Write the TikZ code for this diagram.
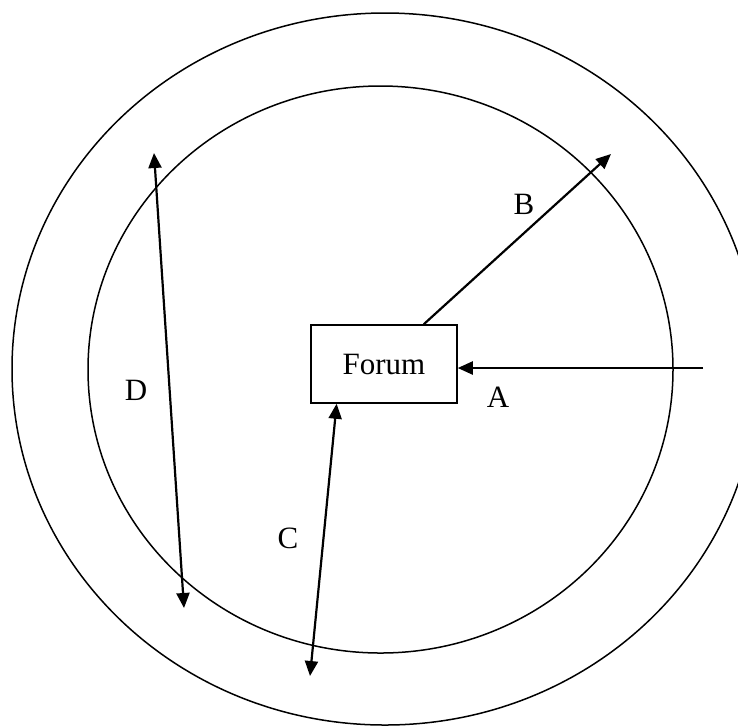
\documentclass[tikz,border=0pt]{standalone}
\usepackage{fontspec}
\setmainfont{Liberation Serif}
\usetikzlibrary{arrows.meta,positioning}

\begin{document}
\begin{tikzpicture}[x=0.5pt,y=-0.5pt,
  ring/.style={line width=0.75pt},
  box/.style={rectangle,draw,line width=0.75pt,minimum width=73pt,minimum height=39pt,inner sep=0pt,font=\fontsize{15.5}{18}\selectfont},
  lbl/.style={inner sep=0pt,font=\fontsize{15.5}{18}\selectfont},
  link/.style={line width=1.1pt,-{Triangle[length=7.5pt,width=6.5pt]}},
  twoway/.style={link,{Triangle[length=7.5pt,width=6.5pt]}-{Triangle[length=7.5pt,width=6.5pt]}}
]
\clip (0,0) rectangle (738,725);
% rings
\draw[ring] (385,369) ellipse [x radius=186.5pt,y radius=178pt];
\draw[ring] (380.5,369.5) ellipse [x radius=146.25pt,y radius=141.75pt];
% centre box
\node[box] (forum) at (384,364) {Forum};
\coordinate (aFrom) at (703,368);
\coordinate (bTo) at (611,154);
\coordinate (cTo) at (310,676);
\coordinate (dTop) at (154,153);
\coordinate (dBot) at (184,608);
\draw[link] (aFrom) -- (aFrom -| forum.east);
\draw[link] (forum.45.7) -- (bTo);
\draw[twoway] (forum.220) -- (cTo);
\draw[twoway] (dTop) -- (dBot);
% labels
\node[lbl] (la) at (498,397) {A};
\node[lbl] (lb) at (524,204) {B};
\node[lbl] (lc) at (288,538) {C};
\node[lbl] (ld) at (136,390) {D};
\end{tikzpicture}
\end{document}
